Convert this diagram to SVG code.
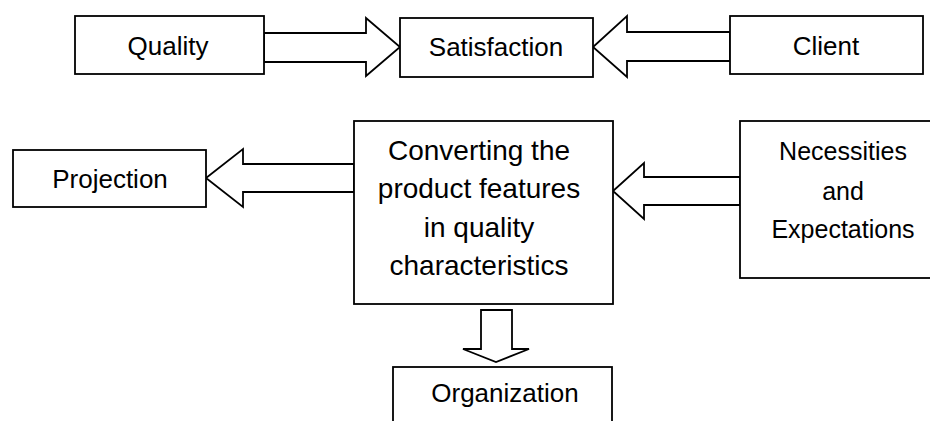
<svg xmlns="http://www.w3.org/2000/svg" width="930" height="421" viewBox="0 0 930 421">
<style>
.box{fill:#fff;stroke:#000;stroke-width:1.8}
.arr{fill:#fff;stroke:#000;stroke-width:1.8;stroke-linejoin:miter}
.t{font-family:"Liberation Sans",Arial,sans-serif;font-size:26px;fill:#000;text-anchor:middle}
.big{font-size:28px}
.mid{font-size:25px}
</style>
<rect width="930" height="421" fill="#fff"/>
<g id="connectors">
<polygon class="arr" points="264,33 366,33 366,18 400,47 366,76 366,62 264,62"/>
<polygon class="arr" points="730,32 627,32 627,16 593,47 627,77 627,61 730,61"/>
<polygon class="arr" points="354,164 243,164 243,149 206,178 243,207 243,192 354,192"/>
<polygon class="arr" points="740,177 644,177 644,163 613,191 644,219 644,205 740,205"/>
<polygon class="arr" points="481,310 512,310 512,349 529,349 496,362 463,349 481,349"/>
</g>
<g id="quality">
<rect class="box" x="75" y="16" width="189" height="58"/>
<text class="t" x="168" y="55">Quality</text>
</g>
<g id="satisfaction">
<rect class="box" x="400" y="18" width="193" height="59"/>
<text class="t" x="496" y="56">Satisfaction</text>
</g>
<g id="client">
<rect class="box" x="730" y="16" width="193" height="58"/>
<text class="t" x="826" y="55">Client</text>
</g>
<g id="projection">
<rect class="box" x="13" y="150" width="193" height="57"/>
<text class="t" x="110" y="188">Projection</text>
</g>
<g id="converting">
<rect class="box" x="354" y="121" width="259" height="183"/>
<text class="t big" x="479" y="160">Converting the</text>
<text class="t big" x="479" y="198">product features</text>
<text class="t big" x="479" y="237">in quality</text>
<text class="t big" x="479" y="275">characteristics</text>
</g>
<g id="necessities">
<rect class="box" x="740" y="121" width="204" height="157"/>
<text class="t mid" x="843" y="160">Necessities</text>
<text class="t mid" x="843" y="200">and</text>
<text class="t mid" x="843" y="238">Expectations</text>
</g>
<g id="organization">
<rect class="box" x="393" y="367" width="219" height="70"/>
<text class="t" x="505" y="402">Organization</text>
</g>
</svg>
